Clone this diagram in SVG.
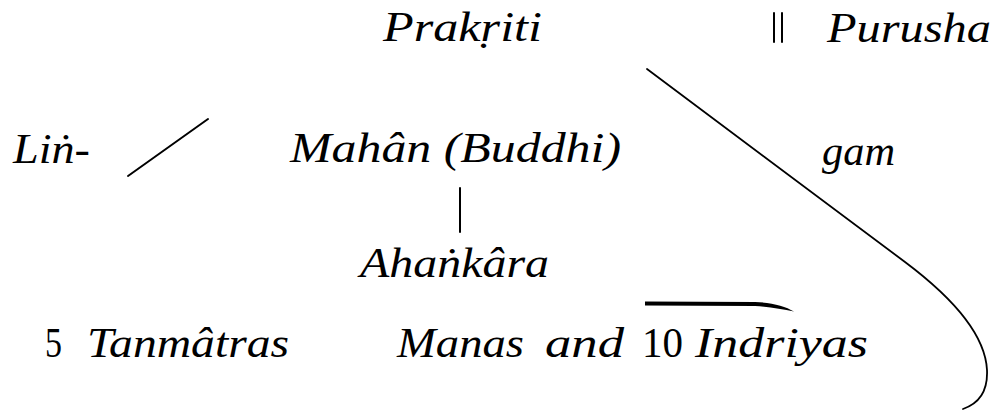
<svg xmlns="http://www.w3.org/2000/svg" width="1002" height="414" viewBox="0 0 1002 414">
  <style>
    .t { font-family: "Liberation Serif", "DejaVu Serif", serif; font-size: 42px; fill: #000; }
    .i { font-style: italic; }
    .n { font-style: normal; }
    .ln { stroke: #000; stroke-width: 2; fill: none; stroke-linecap: round; }
    .thin { stroke: #000; stroke-width: 1.8; fill: none; stroke-linecap: round; }
  </style>
  <rect width="1002" height="414" fill="#fff"/>

  <!-- top row -->
  <g id="prakriti">
    <text class="t i" x="383" y="41" textLength="159" lengthAdjust="spacingAndGlyphs">Prakṛiti</text>
  </g>
  <g id="separator">
    <line class="ln" x1="774" y1="13" x2="774" y2="42"/>
    <line class="ln" x1="782" y1="13" x2="782" y2="42"/>
  </g>
  <g id="purusha">
    <text class="t i" x="827" y="42" textLength="164" lengthAdjust="spacingAndGlyphs">Purusha</text>
  </g>

  <!-- second row -->
  <g id="lingam-left">
    <text class="t i" x="13" y="163" textLength="77" lengthAdjust="spacingAndGlyphs">Liṅ-</text>
  </g>
  <g id="mahan">
    <text class="t i" x="290" y="162" textLength="331" lengthAdjust="spacingAndGlyphs">Mahân (Buddhi)</text>
  </g>
  <g id="lingam-right">
    <text class="t i" x="822" y="165" textLength="73" lengthAdjust="spacingAndGlyphs">gam</text>
  </g>

  <!-- third row -->
  <g id="ahankara">
    <text class="t i" x="360" y="277" textLength="189" lengthAdjust="spacingAndGlyphs">Ahaṅkâra</text>
  </g>

  <!-- bottom row -->
  <g id="tanmatras">
    <text class="t n" x="45" y="357" textLength="17" lengthAdjust="spacingAndGlyphs">5</text>
    <text class="t i" x="87" y="357" textLength="202" lengthAdjust="spacingAndGlyphs">Tanmâtras</text>
  </g>
  <g id="manas-indriyas">
    <text class="t i" x="397" y="357" textLength="127" lengthAdjust="spacingAndGlyphs">Manas</text>
    <text class="t i" x="545" y="357" textLength="79" lengthAdjust="spacingAndGlyphs">and</text>
    <text class="t n" x="642" y="357" textLength="41" lengthAdjust="spacingAndGlyphs">10</text>
    <text class="t i" x="695" y="357" textLength="173" lengthAdjust="spacingAndGlyphs">Indriyas</text>
  </g>

  <!-- connecting strokes -->
  <g id="connectors">
    <line class="ln" x1="128" y1="176" x2="208" y2="119"/>
    <line class="ln" x1="460" y1="188" x2="460" y2="232"/>
    <path class="thin" d="M647,69 L905,262 C945,292 985,330 987,370 C988,392 978,404 963,409"/>
    <path d="M645,301.5 L755,302 C772,302.5 785,306 794,311.5 C782,309.5 770,307 755,306 L645,305.5 Z" fill="#000"/>
  </g>
</svg>
